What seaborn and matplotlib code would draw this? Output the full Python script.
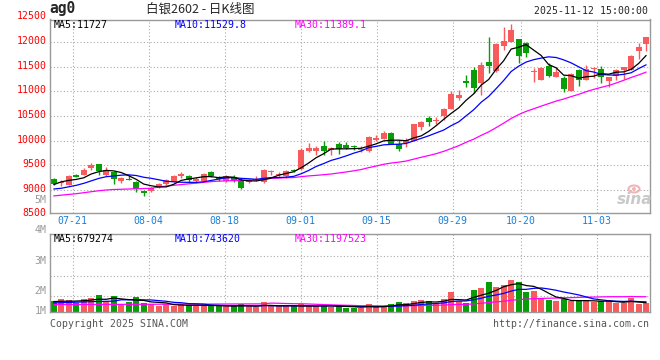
import numpy as np
import pandas as pd
import matplotlib
matplotlib.use("Agg")
import matplotlib.pyplot as plt
from matplotlib.patches import Ellipse
import seaborn as sns

# ---------------- data ----------------
opens = [9223, 9150, 9108, 9311, 9304, 9453, 9528, 9311, 9365, 9189,
         9210, 9162, 8973, 8979, 9067, 9115, 9162, 9284, 9284, 9176,
         9189, 9358, 9250, 9182, 9270, 9203, 9162, 9196, 9169, 9358,
         9311, 9284, 9406, 9419, 9791, 9798, 9893, 9812, 9933, 9913,
         9885, 9815, 9798, 10015, 10042, 10163, 9927, 9947, 10001, 10285,
         10468, 10407, 10510, 10651, 10874, 11212, 11436, 11179, 11605, 11422,
         11930, 12011, 12065, 11991, 11395, 11233, 11524, 11300, 11266, 11009,
         11436, 11233, 11449, 11456, 11219, 11321, 11436, 11436, 11828, 11957]
highs = [9236, 9203, 9311, 9318, 9446, 9548, 9528, 9467, 9379, 9257,
         9311, 9189, 9000, 9067, 9135, 9223, 9297, 9358, 9311, 9257,
         9338, 9392, 9277, 9297, 9297, 9236, 9223, 9277, 9419, 9406,
         9365, 9406, 9433, 9846, 9961, 9893, 10001, 9879, 9967, 9974,
         9912, 9893, 10096, 10116, 10204, 10184, 10015, 10055, 10339, 10407,
         10502, 10475, 10670, 11016, 11030, 11334, 11503, 11605, 12112, 11977,
         12315, 12369, 12065, 12011, 11483, 11503, 11585, 11503, 11314, 11368,
         11449, 11537, 11503, 11517, 11300, 11449, 11503, 11747, 11991, 12112]
lows = [9094, 9088, 9108, 9257, 9304, 9406, 9297, 9291, 9128, 9149,
        9196, 8959, 8885, 8959, 9033, 9094, 9155, 9250, 9169, 9142,
        9176, 9270, 9189, 9169, 9169, 9027, 9135, 9176, 9148, 9311,
        9270, 9250, 9365, 9406, 9778, 9717, 9703, 9717, 9737, 9825,
        9812, 9778, 9778, 10001, 10028, 9927, 9798, 9866, 9988, 10218,
        10299, 10339, 10430, 10637, 10827, 11097, 10962, 10928, 11368, 11402,
        11842, 11997, 11585, 11693, 11199, 11233, 11287, 11300, 10996, 11009,
        11111, 11233, 11266, 11179, 11097, 11233, 11253, 11436, 11652, 11828]
closes = [9128, 9157, 9284, 9264, 9406, 9514, 9392, 9412, 9216, 9236,
          9196, 9020, 8932, 9047, 9115, 9203, 9284, 9324, 9196, 9223,
          9324, 9291, 9216, 9284, 9182, 9040, 9203, 9210, 9406, 9365,
          9318, 9385, 9378, 9812, 9852, 9852, 9791, 9852, 9825, 9859,
          9870, 9830, 10069, 10055, 10163, 9933, 9839, 10008, 10339, 10373,
          10387, 10421, 10650, 10948, 10928, 11165, 11063, 11537, 11524, 11963,
          12031, 12248, 11727, 11788, 11409, 11483, 11321, 11402, 11043, 11355,
          11233, 11456, 11463, 11300, 11300, 11436, 11490, 11720, 11896, 12112]
volumes = [840, 1000, 920, 733, 1000, 1107, 1320, 893, 1240, 653,
           813, 1160, 733, 653, 467, 600, 467, 600, 520, 520,
           520, 440, 520, 440, 440, 600, 440, 387, 760, 440,
           440, 440, 440, 600, 440, 440, 520, 400, 520, 333,
           333, 333, 600, 440, 440, 600, 760, 680, 840, 920,
           840, 680, 1000, 1560, 840, 680, 1720, 1880, 2360, 1960,
           2120, 2520, 2360, 1560, 1640, 1000, 920, 840, 1000, 840,
           920, 920, 760, 840, 920, 680, 680, 1080, 600, 680]  # thousand lots

# moving-average values before enough history is visible
ma5_head = [9110, 9165, 9195, 9215]
ma10_head = [9020, 9035, 9065, 9095, 9135, 9185, 9235, 9270, 9285]
ma30_head = [8880, 8895, 8910, 8925, 8945, 8965, 8985, 9000, 9010, 9015,
             9020, 9025, 9030, 9035, 9060, 9080, 9095, 9110, 9125, 9140,
             9155, 9170, 9180, 9185, 9190, 9195, 9200, 9208, 9215]
vol_ma5_head = [830, 850, 860, 870]
vol_ma10_head = [720, 740, 760, 780, 800, 820, 840, 850, 860]
vol_ma30_head = [590, 592, 594, 596, 598, 600, 602, 604, 606, 608,
                 610, 612, 614, 616, 618, 620, 622, 624, 626, 628,
                 630, 632, 634, 636, 638, 640, 642, 644, 646]

tick_days = [3, 13, 23, 33, 43, 53, 62, 72]
tick_labels = ["07-21", "08-04", "08-18", "09-01", "09-15", "09-29", "10-20", "11-03"]
price_levels = [8500, 9000, 9500, 10000, 10500, 11000, 11500, 12000, 12500]

title_code = "ag0"
title_name = "白银2602 - 日K线图"
title_time = "2025-11-12 15:00:00"
ma_price_text = ["MA5:11727", "MA10:11529.8", "MA30:11389.1"]
ma_vol_text = ["MA5:679274", "MA10:743620", "MA30:1197523"]
vol_labels = ["5M", "4M", "3M", "2M", "1M"]

# ---------------- derived series ----------------
n = len(closes)
x = np.arange(n)
df = pd.DataFrame({"x": x, "open": opens, "high": highs, "low": lows,
                   "close": closes, "vol": np.array(volumes) * 1000.0})


def moving(series, w, head):
    m = series.rolling(w).mean().to_numpy()
    m[:len(head)] = head
    return m


df["ma5"] = moving(df["close"], 5, ma5_head)
df["ma10"] = moving(df["close"], 10, ma10_head)
df["ma30"] = moving(df["close"], 30, ma30_head)
df["vma5"] = moving(df["vol"], 5, np.array(vol_ma5_head) * 1000.0)
df["vma10"] = moving(df["vol"], 10, np.array(vol_ma10_head) * 1000.0)
df["vma30"] = moving(df["vol"], 30, np.array(vol_ma30_head) * 1000.0)
up = df["close"] >= df["open"]
RED, GREEN = "#f75b5b", "#079d07"
colors = np.where(up, RED, GREEN)

# ---------------- style ----------------
sns.set_style("white")
plt.rcParams["font.family"] = ["DejaVu Sans Mono", "Noto Sans CJK SC", "DejaVu Sans"]
MONO = ["DejaVu Sans Mono", "DejaVu Sans"]
FS = 7.1
GRID = dict(color="#aaaaaa", lw=0.8, ls=(0, (1, 2)))

W, H = 660, 360
fig = plt.figure(figsize=(6.6, 3.6), dpi=100)
fig.patch.set_facecolor("white")


def box(x0, y0, x1, y1):
    return [x0 / W, 1 - y1 / H, (x1 - x0) / W, (y1 - y0) / H]


def ftext(px, py, s, **kw):
    fig.text(px / W, 1 - py / H, s, **kw)


ax = fig.add_axes(box(50, 19.5, 649.5, 213))
axv = fig.add_axes(box(50, 234.3, 649.5, 312))
tick_pos = [d * 1.0133 - 0.5 for d in tick_days]

for a in (ax, axv):
    a.set_facecolor("white")
    for s in a.spines.values():
        s.set_color("#999999")
        s.set_linewidth(1.0)
    a.set_xlim(-0.5, 79.45)
    a.tick_params(length=0)
    for p in tick_pos:
        a.axvline(p, zorder=0, **GRID)

# ---------------- price panel ----------------
ax.set_ylim(8533, 12461)
for p in price_levels[1:-1]:
    ax.axhline(p, zorder=0, **GRID)

body_lo = np.minimum(df["open"], df["close"])
body_h = np.maximum(np.abs(df["close"] - df["open"]), 20)
ax.vlines(df["x"], df["low"], df["high"], colors=colors, lw=1.0, zorder=2)
ax.bar(df["x"], body_h, bottom=body_lo, width=0.8, color=colors, linewidth=0, zorder=2)

for col, c in (("ma30", "#ff00ff"), ("ma10", "#0000ff"), ("ma5", "#000000")):
    sns.lineplot(data=df, x="x", y=col, ax=ax, color=c, lw=0.9, zorder=3, legend=False)

ax.set_xticks(tick_pos)
ax.set_xticklabels(tick_labels, color="#1a7fd6", fontsize=FS, family=MONO)
ax.tick_params(axis="x", pad=2.5)
ax.set_yticks([])
ax.set_xlabel("")
ax.set_ylabel("")
for p in price_levels:
    ax.text(-3.5 / 600, p + 25, f"{p}", transform=ax.get_yaxis_transform(), ha="right",
            va="center", color="#ff0000", fontsize=FS, family=MONO, clip_on=False)

# ---------------- volume panel ----------------
vtop = 6.18e6
axv.set_ylim(0, vtop)
for f in (0.205, 0.462, 0.718):
    axv.plot([0, 1], [f, f], transform=axv.transAxes, zorder=0, **GRID)
axv.bar(df["x"], df["vol"], width=0.8, color=colors, linewidth=0, zorder=2)
for col, c in (("vma30", "#ff00ff"), ("vma10", "#0000ff"), ("vma5", "#000000")):
    sns.lineplot(data=df, x="x", y=col, ax=axv, color=c, lw=0.9, zorder=3, legend=False)
axv.set_xticks([])
axv.set_yticks([])
axv.set_xlabel("")
axv.set_ylabel("")

# ---------------- texts ----------------
ftext(49, 9, title_code, fontsize=10.5, weight="bold", family=MONO, va="center", ha="left")
ftext(200, 9.5, title_name, fontsize=9, family=["Noto Sans CJK SC", "DejaVu Sans"],
      va="center", ha="center")
ftext(648, 11.5, title_time, fontsize=FS, family=MONO, va="center", ha="right")

for (s, c, px) in zip(ma_price_text, ["#000000", "#0000ff", "#ff00ff"], [54, 175, 295]):
    ftext(px, 24.5, s, color=c, fontsize=FS, family=MONO, va="center", ha="left")
for (s, c, px) in zip(ma_vol_text, ["#000000", "#0000ff", "#ff00ff"], [54, 175, 295]):
    ftext(px, 238.5, s, color=c, fontsize=FS, family=MONO, va="center", ha="left")

for s, py in zip(vol_labels, [200, 230.5, 260.7, 290.7, 311]):
    ftext(46.5, py, s, color="#999999", fontsize=FS, family=MONO, va="center", ha="right")

ftext(50, 324, "Copyright 2025 SINA.COM", color="#555555", fontsize=FS, family=MONO,
      va="center", ha="left")
ftext(648.5, 324, "http://finance.sina.com.cn", color="#555555", fontsize=FS, family=MONO,
      va="center", ha="right")

# sina watermark (eye logo + word)
fig.patches.append(Ellipse((634 / W, 1 - 189 / H), 11 / W, 7 / H, transform=fig.transFigure,
                           facecolor="none", edgecolor="#f2b5b5", lw=1.5))
fig.patches.append(Ellipse((634 / W, 1 - 189 / H), 4 / W, 4 / H, transform=fig.transFigure,
                           facecolor="#f2b5b5", edgecolor="none"))
ftext(635, 200, "sina", color="#c9c9c9", fontsize=11, weight="bold", style="italic",
      family=["DejaVu Sans"], va="center", ha="center")

fig.savefig("out.png", dpi=100, facecolor="white")
